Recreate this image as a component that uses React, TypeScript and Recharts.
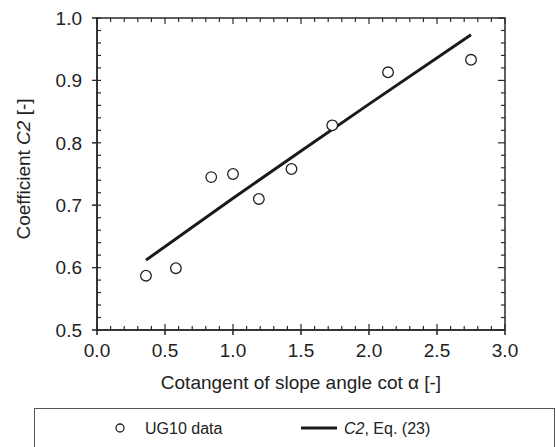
import { ScatterChart, Scatter, XAxis, YAxis, Label } from "recharts";

// UG10 measurements: cot(alpha) vs coefficient C2
const cotAlpha = [0.36, 0.58, 0.84, 1.0, 1.19, 1.43, 1.73, 2.14, 2.75];
const c2Measured = [0.587, 0.599, 0.745, 0.75, 0.71, 0.758, 0.828, 0.913, 0.933];

// C2 from Eq. (23)
const fitCot = [0.36, 1.0, 1.5, 2.0, 2.75];
const fitC2 = [0.612, 0.711, 0.787, 0.862, 0.973];

const xTicks = [0, 0.5, 1, 1.5, 2, 2.5, 3];
const yTicks = [0.5, 0.6, 0.7, 0.8, 0.9, 1.0];
const xDomain = [0, 3];
const yDomain = [0.5, 1];

// minor ticks every 0.1 / 0.02
const xMinor = Array.from({ length: 31 }, (_, i) => +(i * 0.1).toFixed(1));
const yMinor = Array.from({ length: 26 }, (_, i) => +(0.5 + i * 0.02).toFixed(2));

const points = cotAlpha.map((x, i) => ({ x, y: c2Measured[i] }));
const fit = fitCot.map((x, i) => ({ x, y: fitC2[i] }));

const W = 556;
const H = 447;
const MARGIN = { top: 18, right: 51, left: 37, bottom: 57 };
const Y_AXIS_W = 60;
const X_AXIS_H = 60;
const PL = MARGIN.left + Y_AXIS_W;
const PR = W - MARGIN.right;
const PT = MARGIN.top;
const PB = H - MARGIN.bottom - X_AXIS_H;
const sx = (v: number) => PL + ((v - xDomain[0]) / (xDomain[1] - xDomain[0])) * (PR - PL);
const sy = (v: number) => PB - ((v - yDomain[0]) / (yDomain[1] - yDomain[0])) * (PB - PT);

const AXIS = "#2a2a2a";
const TEXT = "#222";
const FONT = "'Liberation Sans', Arial, sans-serif";

const isMajorX = (v: number) => Math.abs(v * 2 - Math.round(v * 2)) < 1e-6;
const isMajorY = (v: number) => Math.abs(v * 10 - Math.round(v * 10)) < 1e-6;

const OpenCircle = (props: any) => (
  <circle cx={props.cx} cy={props.cy} r={5.3} fill="#fff" stroke="#222" strokeWidth={1.3} />
);
const Nothing = () => <g />;

const YTitle = ({ viewBox }: any) => {
  const cx = viewBox.x - 14;
  const cy = viewBox.y + viewBox.height / 2 - 5;
  return (
    <text
      x={cx}
      y={cy}
      transform={`rotate(-90 ${cx} ${cy})`}
      textAnchor="middle"
      dominantBaseline="central"
      fontSize={19}
      fill={TEXT}
      fontFamily={FONT}
    >
      Coefficient <tspan fontStyle="italic">C2</tspan> [-]
    </text>
  );
};

const XTitle = ({ viewBox }: any) => (
  <text
    x={viewBox.x + viewBox.width / 2}
    y={viewBox.y + 52}
    textAnchor="middle"
    dominantBaseline="central"
    fontSize={19}
    fill={TEXT}
    fontFamily={FONT}
  >
    Cotangent of slope angle cot α [-]
  </text>
);

// box frame with inward minor/major ticks on all four sides
const Frame = () => (
  <g stroke={AXIS} strokeWidth={1.2}>
    <rect x={PL} y={PT} width={PR - PL} height={PB - PT} fill="none" strokeWidth={1.5} />
    {xMinor.map((v) => {
      const m = isMajorX(v);
      const x = sx(v);
      return (
        <g key={`x${v}`}>
          <line x1={x} x2={x} y1={PB + (m ? 5 : 0)} y2={PB - (m ? 6 : 4)} />
          <line x1={x} x2={x} y1={PT} y2={PT + (m ? 6 : 4)} />
        </g>
      );
    })}
    {yMinor.map((v) => {
      const m = isMajorY(v);
      const y = sy(v);
      return (
        <g key={`y${v}`}>
          <line x1={PL - (m ? 5 : 0)} x2={PL + 4} y1={y} y2={y} />
          <line x1={PR - (m ? 7 : 4)} x2={PR} y1={y} y2={y} />
        </g>
      );
    })}
  </g>
);

export default function App() {
  return (
    <div style={{ position: "relative", width: W, height: H, overflow: "hidden", fontFamily: FONT }}>
      <style>{`body{margin:0}`}</style>
      <ScatterChart width={W} height={H} margin={MARGIN} style={{ fontFamily: FONT }}>
        <XAxis
          xAxisId="x"
          type="number"
          dataKey="x"
          domain={xDomain}
          ticks={xTicks}
          interval={0}
          height={X_AXIS_H}
          tickSize={5}
          tickMargin={9}
          tickFormatter={(v: number) => v.toFixed(1)}
          tick={{ fontSize: 19, fill: TEXT, fontFamily: FONT }}
          axisLine={{ stroke: AXIS, strokeWidth: 1.5 }}
          tickLine={{ stroke: AXIS }}
          allowDataOverflow
        >
          <Label content={XTitle} />
        </XAxis>
        <YAxis
          yAxisId="y"
          type="number"
          dataKey="y"
          domain={yDomain}
          ticks={yTicks}
          interval={0}
          width={Y_AXIS_W}
          tickSize={5}
          tickMargin={10}
          tickFormatter={(v: number) => v.toFixed(1)}
          tick={{ fontSize: 19, fill: TEXT, fontFamily: FONT }}
          axisLine={{ stroke: AXIS, strokeWidth: 1.5 }}
          tickLine={{ stroke: AXIS }}
          allowDataOverflow
        >
          <Label content={YTitle} />
        </YAxis>

        <Scatter
          xAxisId="x"
          yAxisId="y"
          data={fit}
          line={{ stroke: "#1a1a1a", strokeWidth: 3 }}
          shape={Nothing}
          isAnimationActive={false}
        />
        <Scatter
          xAxisId="x"
          yAxisId="y"
          data={points}
          shape={OpenCircle}
          isAnimationActive={false}
        />
      </ScatterChart>

      {/* legend box */}
      <div
        style={{
          position: "absolute",
          left: 34,
          top: 408,
          width: 521,
          height: 80,
          border: "1px solid #555",
          boxSizing: "border-box",
        }}
      />
      <svg style={{ position: "absolute", left: 0, top: 0 }} width={W} height={H} pointerEvents="none">
        <Frame />
        <circle cx={120} cy={428} r={4} fill="#fff" stroke="#222" strokeWidth={1.3} />
        <line x1={301} x2={337} y1={428} y2={428} stroke="#1a1a1a" strokeWidth={3} />
        <text x={145} y={428} dominantBaseline="central" fontSize={16} fill={TEXT} fontFamily={FONT}>
          UG10 data
        </text>
        <text x={344} y={428} dominantBaseline="central" fontSize={16} fill={TEXT} fontFamily={FONT}>
          <tspan fontStyle="italic">C2</tspan>, Eq. (23)
        </text>
      </svg>
    </div>
  );
}
